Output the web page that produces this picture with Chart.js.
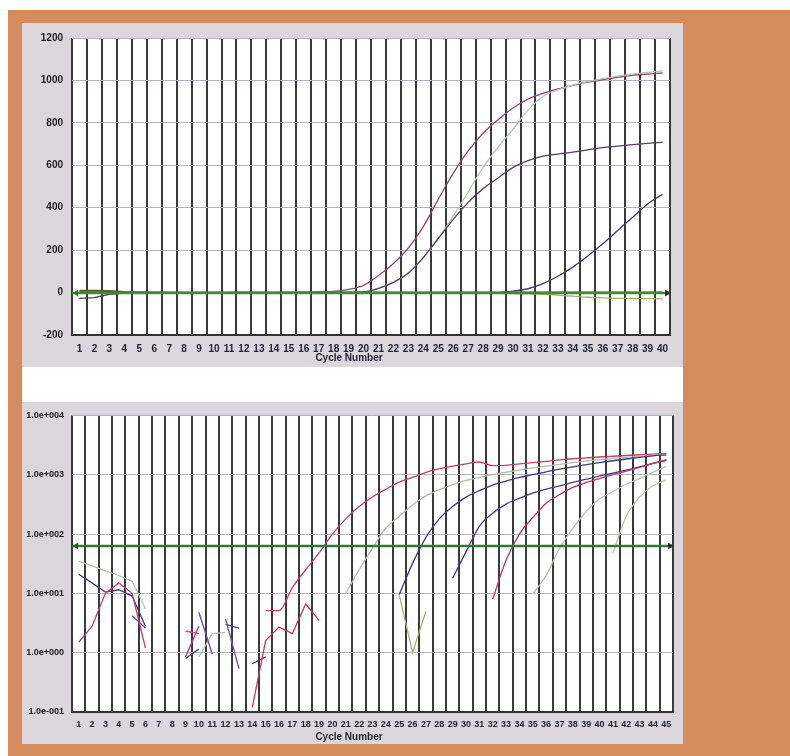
<!DOCTYPE html>
<html><head><meta charset="utf-8">
<script src="https://cdn.jsdelivr.net/npm/chart.js@4.4.1/dist/chart.umd.min.js"></script>
<style>
html,body{margin:0;padding:0;background:#fff;}
body{width:790px;height:756px;position:relative;overflow:hidden;}
#orange{position:absolute;left:8px;top:10px;width:782px;height:746px;background:#d58c5c;}
#panel{position:absolute;left:22px;top:23px;width:661px;height:721px;background:#fff;}
canvas{position:absolute;left:22px;background:#dbd6db;}
#c1{top:23px;} #c2{top:402px;}
</style></head><body>
<div id="orange"></div><div id="panel"></div>
<canvas id="c1" width="661" height="344"></canvas>
<canvas id="c2" width="661" height="342"></canvas>
<script>
// ---------- DATA: linear amplification plot ----------
const topCycles = ["1","2","3","4","5","6","7","8","9","10","11","12","13","14","15","16","17","18","19","20",
  "21","22","23","24","25","26","27","28","29","30","31","32","33","34","35","36","37","38","39","40"];
const topYTicks = [-200, 0, 200, 400, 600, 800, 1000, 1200];
const topYLabels = ["-200","0","200","400","600","800","1000","1200"];
const topThreshold = -4;
const topA = [2,1,0,-1,0,1,0,0,-1,0, 0,1,0,0,1,2,3,5,15,34, 80,137,210,311,440,562,668,751,815,870, 912,939,960,977,992,1004,1015,1024,1030,1035];
const topB = [0,0,-1,0,0,0,-1,0,0,0, 0,0,0,-1,0,0,0,0,1,3, 20,48,92,165,255,360,475,590,685,770, 860,924,955,978,995,1008,1020,1030,1038,1045];
const topC = [0,-1,0,0,0,0,0,-1,0,0, 0,0,0,0,0,-1,0,0,1,3, 20,48,92,165,255,345,425,490,540,590, 622,643,653,662,673,683,690,697,703,708];
const topD = [0,0,0,-1,0,0,0,0,0,-1, 0,0,0,0,0,0,0,-1,0,0, 0,0,0,-1,0,0,0,-1,0,7, 18,42,77,120,172,230,293,355,418,463];
const topE = [6,5,4,2,1,0,0,0,0,0, 0,0,-1,0,0,-1,0,0,0,-1, 0,0,-1,-1,-2,-2,-3,-3,-4,-5, -6,-8,-12,-17,-22,-25,-27,-28,-29,-30];
const topF = [-27,-24,-8,-3,-1,0,-1,0,0,-1, 0,0,-1,0,0,-1,0,0,-1,0, 0,-1,0,0,-1,0,0,-1,0,0, -1,0,0,-1,0,0,-1,0,0,-1];
const topG = [8,8,7,3,1,0,0,0,0,0, 0,0,0,0,0,0,0,0,0,0, 0,0,0,0,0,0,0,0,0,0, 0,0,0,0,0,0,0,0,0,0];

// ---------- DATA: log amplification plot ----------
const botCycles = ["1","2","3","4","5","6","7","8","9","10","11","12","13","14","15","16","17","18","19","20",
  "21","22","23","24","25","26","27","28","29","30","31","32","33","34","35","36","37","38","39","40",
  "41","42","43","44","45"];
const botYTicks = [0.1, 1, 10, 100, 1000, 10000];
const botYLabels = ["1.0e-001","1.0e+000","1.0e+001","1.0e+002","1.0e+003","1.0e+004"];
const botThreshold = 62;
const _ = null;
const s1 = [_,_,_,_,_,_,_,_,_,_, _,_,_,_,5.1,5.1,12.5,25,48,100, 180,290,420,570,750,900,1100,1260,1400,1520, 1640,1420,1440,1520,1600,1680,1780,1860,1920,1990, 2050,2110,2170,2230,2280];
const s2 = [_,_,_,_,_,_,_,_,_,_, _,_,_,_,_,_,_,_,_,_, 10,25,58,125,200,310,440,560,680,800, 900,1000,1100,1200,1300,1400,1500,1600,1700,1800, 1880,1960,2040,2120,2200];
const s3 = [_,_,_,_,_,_,_,_,_,_, _,_,_,_,_,_,_,_,_,_, _,_,_,_,9.5,32,88,180,290,420, 540,670,780,900,1000,1120,1240,1360,1480,1600, 1720,1840,1960,2080,2160];
const s4 = [_,_,_,_,_,_,_,_,_,_, _,_,_,_,_,_,_,_,_,_, _,_,_,_,_,_,_,_,18,50, 135,225,320,400,490,570,650,740,840,950, 1060,1200,1350,1550,1750];
const s5 = [_,_,_,_,_,_,_,_,_,_, _,_,_,_,_,_,_,_,_,_, _,_,_,_,_,_,_,_,_,_, _,8,36,100,190,330,460,610,740,860, 1000,1150,1330,1550,1800];
const s6 = [_,_,_,_,_,_,_,_,_,_, _,_,_,_,_,_,_,_,_,_, _,_,_,_,_,_,_,_,_,_, _,_,_,_,9.7,20,57,125,240,390, 520,690,860,1100,1380];
const s7 = [_,_,_,_,_,_,_,_,_,_, _,_,_,_,_,_,_,_,_,_, _,_,_,_,_,_,_,_,_,_, _,_,_,_,_,_,_,_,_,_, 48,200,420,650,820];
const s8 = [_,_,_,_,_,_,_,_,_,_, _,_,_,_,_,_,_,_,_,_, _,_,_,_,9.5,1.0,5.0,_,_,_, _,_,_,_,_,_,_,_,_,_, _,_,_,_,_];
// noisy sub-threshold fragments
const fA = [1.5,2.8,10,15,10,1.2,_,_,_,_, _,_,_,_,_,_,_,_,_,_, _,_,_,_,_,_,_,_,_,_, _,_,_,_,_,_,_,_,_,_, _,_,_,_,_];
const fB = [21,15,10.5,11.5,9,2.8,_,_,_,_, _,_,_,_,_,_,_,_,_,_, _,_,_,_,_,_,_,_,_,_, _,_,_,_,_,_,_,_,_,_, _,_,_,_,_];
const fC = [35,29,24,20,16,5.5,_,_,_,_, _,_,_,_,_,_,_,_,_,_, _,_,_,_,_,_,_,_,_,_, _,_,_,_,_,_,_,_,_,_, _,_,_,_,_];
const fD = [_,_,_,_,4.2,2.6,_,_,_,_, _,_,_,_,_,_,_,_,_,_, _,_,_,_,_,_,_,_,_,_, _,_,_,_,_,_,_,_,_,_, _,_,_,_,_];
const fE = [_,_,_,_,_,_,_,_,2.3,2.1, _,_,_,_,_,_,_,_,_,_, _,_,_,_,_,_,_,_,_,_, _,_,_,_,_,_,_,_,_,_, _,_,_,_,_];
const fF = [_,_,_,_,_,_,_,_,0.85,2.8, _,_,_,_,_,_,_,_,_,_, _,_,_,_,_,_,_,_,_,_, _,_,_,_,_,_,_,_,_,_, _,_,_,_,_];
const fG = [_,_,_,_,_,_,_,_,0.8,1.15, _,_,_,_,_,_,_,_,_,_, _,_,_,_,_,_,_,_,_,_, _,_,_,_,_,_,_,_,_,_, _,_,_,_,_];
const fH = [_,_,_,_,_,_,_,_,_,4.8, 0.95,_,_,_,_,_,_,_,_,_, _,_,_,_,_,_,_,_,_,_, _,_,_,_,_,_,_,_,_,_, _,_,_,_,_];
const fI = [_,_,_,_,_,_,_,_,_,0.85, 2.1,2.2,_,_,_,_,_,_,_,_, _,_,_,_,_,_,_,_,_,_, _,_,_,_,_,_,_,_,_,_, _,_,_,_,_];
const fJ = [_,_,_,_,_,_,_,_,_,_, _,3.7,0.54,_,_,_,_,_,_,_, _,_,_,_,_,_,_,_,_,_, _,_,_,_,_,_,_,_,_,_, _,_,_,_,_];
const fK = [_,_,_,_,_,_,_,_,_,_, _,3.0,2.6,_,_,_,_,_,_,_, _,_,_,_,_,_,_,_,_,_, _,_,_,_,_,_,_,_,_,_, _,_,_,_,_];
const fL = [_,_,_,_,_,_,_,_,_,_, _,_,_,0.12,1.6,2.7,2.1,6.6,3.5,_, _,_,_,_,_,_,_,_,_,_, _,_,_,_,_,_,_,_,_,_, _,_,_,_,_];
const fM = [_,_,_,_,_,_,_,_,_,_, _,_,_,0.65,0.85,_,_,_,_,_, _,_,_,_,_,_,_,_,_,_, _,_,_,_,_,_,_,_,_,_, _,_,_,_,_];

// ---------- plugins ----------
const plotBg = {id:'plotBg', beforeDraw(chart){const {ctx, chartArea:a}=chart; ctx.save(); ctx.fillStyle='#ffffff'; ctx.fillRect(a.left,a.top,a.right-a.left,a.bottom-a.top); ctx.restore();}};
const thresholdLine = {id:'thresholdLine', afterDatasetsDraw(chart, args, o){
  const {ctx, chartArea:a} = chart; const y = Math.round(chart.scales.y.getPixelForValue(o.value));
  ctx.save(); ctx.strokeStyle=o.color; ctx.lineWidth=2.5; ctx.beginPath(); ctx.moveTo(a.left,y); ctx.lineTo(a.right,y); ctx.stroke();
  ctx.fillStyle=o.leftColor; ctx.beginPath(); ctx.moveTo(a.left+1,y); ctx.lineTo(a.left+6,y-3.5); ctx.lineTo(a.left+6,y+3.5); ctx.closePath(); ctx.fill();
  ctx.fillStyle=o.rightColor; ctx.beginPath(); ctx.moveTo(a.right+1,y); ctx.lineTo(a.right-5,y-3.5); ctx.lineTo(a.right-5,y+3.5); ctx.closePath(); ctx.fill();
  ctx.restore();
}};
const axisTitle = {id:'axisTitle', afterDraw(chart, args, o){
  const ctx = chart.ctx; ctx.save(); ctx.font='bold 10px "Liberation Sans", Arial, sans-serif'; ctx.fillStyle='#1e2233';
  ctx.textAlign='center'; ctx.textBaseline='middle'; ctx.fillText(o.text, o.x, o.y); ctx.restore();
}};

function line(data, color, extra){ return Object.assign({data, borderColor:color, borderWidth:1.3, pointRadius:0, fill:false, spanGaps:false, tension:0}, extra||{}); }
const smooth = {cubicInterpolationMode:'monotone'};
const tickFont = (s)=>({family:'"Liberation Sans", Arial, sans-serif', size:s, weight:'bold'});

new Chart(document.getElementById('c1'), {
  type:'line',
  data:{ labels: topCycles, datasets:[
    line(topG,'#5a5a30',{borderWidth:2}),
    line(topF,'#4a3a5a'),
    line(topE,'#a8ad62',smooth),
    line(topD,'#3f3b6e',smooth),
    line(topC,'#5a3c62',smooth),
    line(topB,'#b9c7b4',smooth),
    line(topA,'#8a4a74',smooth)
  ]},
  options:{
    responsive:false, animation:false, devicePixelRatio:1,
    layout:{padding:{top:13,right:13,left:0,bottom:0}},
    plugins:{legend:{display:false}, tooltip:{enabled:false},
      thresholdLine:{value:topThreshold,color:'#3f8a35',leftColor:'#2f7a2a',rightColor:'#2a2a3a'},
      axisTitle:{text:'Cycle Number', x:327, y:335}},
    scales:{
      x:{type:'category', offset:true,
        grid:{offset:true, color:'#3a3a3a', lineWidth:2, drawTicks:false},
        border:{display:true, color:'#333', width:2},
        ticks:{autoSkip:false, maxRotation:0, padding:8, color:'#20243a', font:tickFont(10)},
        afterFit(s){ s.height = 32; }},
      y:{type:'linear', min:-200, max:1200,
        afterBuildTicks(s){ s.ticks = topYTicks.map(v=>({value:v})); },
        grid:{color:'#b4b2c0', lineWidth:1, drawTicks:false},
        border:{display:false},
        ticks:{padding:9, color:'#1a1a1a', font:tickFont(10),
          callback(v){ const i = topYTicks.indexOf(v); return i>=0 ? topYLabels[i] : ''; }},
        afterFit(s){ s.width = 50; }}
    }
  },
  plugins:[plotBg, thresholdLine, axisTitle]
});

new Chart(document.getElementById('c2'), {
  type:'line',
  data:{ labels: botCycles, datasets:[
    line(fA,'#c0407a'), line(fB,'#3f3a6e'), line(fC,'#b4c4b0'), line(fD,'#6a4a9a'),
    line(fE,'#d0406a'), line(fF,'#c03a70'), line(fG,'#3f3a6e'), line(fH,'#6a4aa0'),
    line(fI,'#b4c4b0'), line(fJ,'#7a4a9a'), line(fK,'#3f3a6e'), line(fL,'#c83a5a'), line(fM,'#4a3a6e'),
    line(s8,'#9ab87a'),
    line(s7,'#bcc8a4',smooth),
    line(s6,'#b4c4b0',smooth),
    line(s5,'#b83466',smooth),
    line(s4,'#4e3a78',smooth),
    line(s3,'#3f3a78',smooth),
    line(s2,'#b0c0a8',smooth),
    line(s1,'#c0406e',smooth)
  ]},
  options:{
    responsive:false, animation:false, devicePixelRatio:1,
    layout:{padding:{top:11,right:10,left:0,bottom:0}},
    plugins:{legend:{display:false}, tooltip:{enabled:false},
      thresholdLine:{value:botThreshold,color:'#2f7a30',leftColor:'#2a5a2a',rightColor:'#2a3a2a'},
      axisTitle:{text:'Cycle Number', x:327, y:335}},
    scales:{
      x:{type:'category', offset:true,
        grid:{offset:true, color:'#3a3a3a', lineWidth:2, drawTicks:false},
        border:{display:true, color:'#333', width:2},
        ticks:{autoSkip:false, maxRotation:0, padding:7, color:'#20243a', font:tickFont(9)},
        afterFit(s){ s.height = 32; }},
      y:{type:'logarithmic', min:0.1, max:10000,
        afterBuildTicks(s){ s.ticks = botYTicks.map(v=>({value:v})); },
        grid:{color:'#b4b2c0', lineWidth:1, drawTicks:false},
        border:{display:false},
        ticks:{padding:8, color:'#1a1a1a', font:tickFont(9),
          callback(v){ const i = botYTicks.indexOf(v); return i>=0 ? botYLabels[i] : ''; }},
        afterFit(s){ s.width = 50; }}
    }
  },
  plugins:[plotBg, thresholdLine, axisTitle]
});
</script>
</body></html>
